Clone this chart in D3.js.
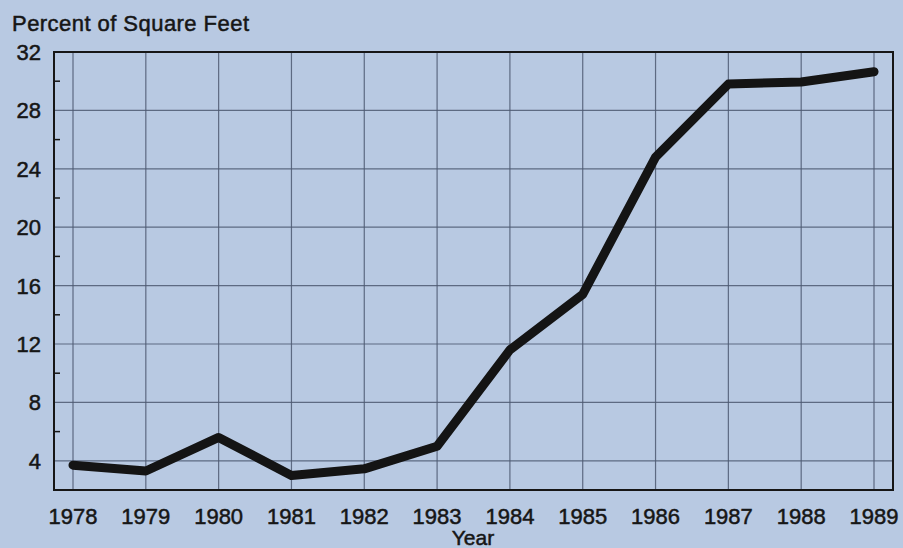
<!DOCTYPE html>
<html>
<head>
<meta charset="utf-8">
<script src="https://cdn.jsdelivr.net/npm/d3@7"></script>
<style>
body{margin:0;background:#b8c9e2;overflow:hidden;}
text{font-family:"Liberation Sans",Arial,sans-serif;fill:#161616;stroke:#161616;stroke-width:0.5px;}
</style>
</head>
<body>
<div id="chart"></div>
<script>
// values
var years = [1978,1979,1980,1981,1982,1983,1984,1985,1986,1987,1988,1989];
var percent = [3.7,3.3,5.6,3.0,3.45,5.0,11.6,15.4,24.8,29.8,29.95,30.65];
var yTicks = [4,8,12,16,20,24,28,32];
var yMinor = [6,10,14,18,22,26,30];

var W = 903, H = 548;
var pLeft = 54, pRight = 893, pTop = 52, pBottom = 490;

var svg = d3.select("#chart").append("svg").attr("width",W).attr("height",H);

var x = d3.scaleLinear().domain([1978,1989]).range([73,874]);
var y = d3.scaleLinear().domain([2,32]).range([pBottom,pTop]);

// grid
svg.append("g").selectAll("line").data(yTicks.slice(0,-1)).enter().append("line")
    .attr("x1",pLeft).attr("x2",pRight)
    .attr("y1",function(d){return y(d);}).attr("y2",function(d){return y(d);})
    .attr("stroke","#4e5a72").attr("stroke-width",1.2).attr("opacity",0.85);
svg.append("g").selectAll("line").data(years).enter().append("line")
    .attr("x1",function(d){return x(d);}).attr("x2",function(d){return x(d);})
    .attr("y1",pTop).attr("y2",pBottom)
    .attr("stroke","#4e5a72").attr("stroke-width",1.2).attr("opacity",0.85);

// minor ticks on the left edge
svg.append("g").selectAll("line").data(yMinor).enter().append("line")
    .attr("x1",pLeft).attr("x2",pLeft+6)
    .attr("y1",function(d){return y(d);}).attr("y2",function(d){return y(d);})
    .attr("stroke","#161616").attr("stroke-width",1.5);

// frame
svg.append("rect").attr("x",pLeft).attr("y",pTop)
    .attr("width",pRight-pLeft).attr("height",pBottom-pTop)
    .attr("fill","none").attr("stroke","#161616").attr("stroke-width",2);

// y labels
svg.append("g").selectAll("text").data(yTicks).enter().append("text")
    .attr("x",41).attr("y",function(d){return y(d);})
    .attr("dy","0.36em").attr("text-anchor","end")
    .attr("font-size",22).text(function(d){return d;});

// x labels
svg.append("g").selectAll("text").data(years).enter().append("text")
    .attr("x",function(d){return x(d);}).attr("y",524)
    .attr("text-anchor","middle").attr("font-size",22)
    .text(function(d){return d;});

svg.append("text").attr("x",12).attr("y",31).attr("font-size",22)
    .attr("textLength",237).text("Percent of Square Feet");
svg.append("text").attr("x",473).attr("y",545).attr("text-anchor","middle")
    .attr("font-size",21).text("Year");

// line
var line = d3.line()
    .x(function(d,i){return x(years[i]);})
    .y(function(d){return y(d);});
svg.append("path").datum(percent).attr("d",line)
    .attr("fill","none").attr("stroke","#141414")
    .attr("stroke-width",9).attr("stroke-linejoin","round").attr("stroke-linecap","round");
</script>
</body>
</html>
